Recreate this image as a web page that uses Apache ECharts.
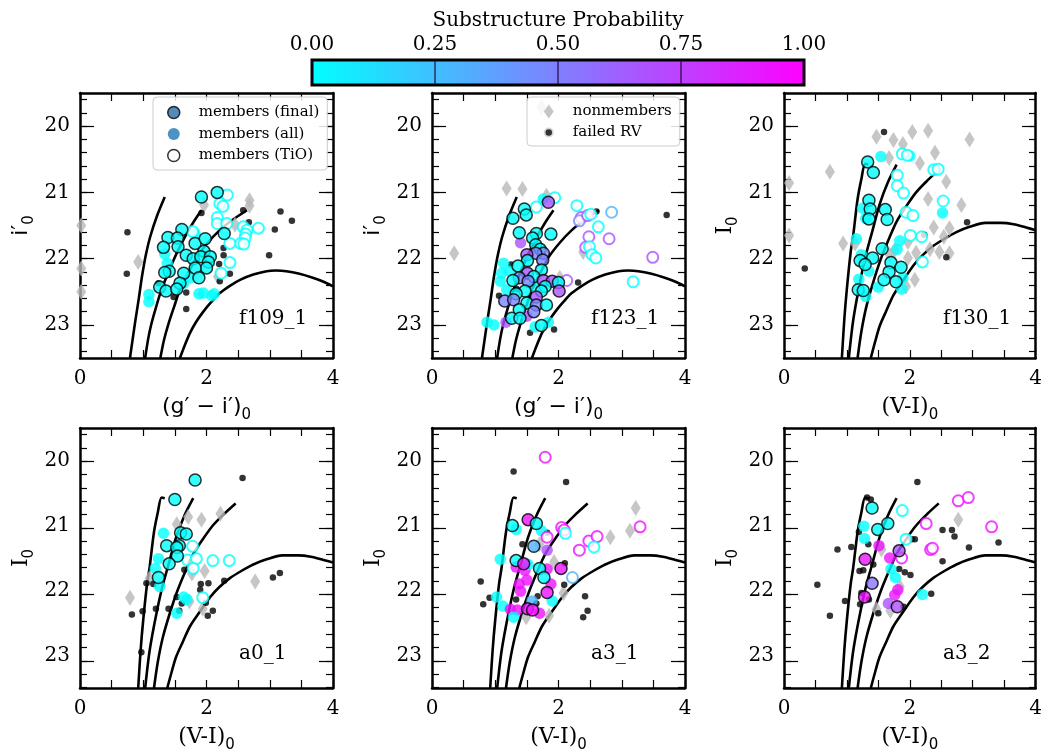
<!DOCTYPE html>
<html><head><meta charset="utf-8">
<script src="https://cdn.jsdelivr.net/npm/echarts@6/dist/echarts.min.js"></script>
<style>html,body{margin:0;padding:0;background:#fff}#c{width:1045px;height:754px}</style>
</head><body><div id="c"></div>
<script>
// ---------- tick values ----------
const X_LABELS = [0,2,4];
const Y_LABELS = [20,21,22,23];
const CB_TICKS = [0,0.25,0.5,0.75,1];

// ---------- isochrones ----------
const iso_gi_1 = [[0.79,23.5],[0.87,22.97],[0.93,22.6],[0.98,22.27],[1.04,21.95],[1.11,21.67],[1.22,21.35],[1.34,21.07]];
const iso_gi_2 = [[1.03,23.5],[1.08,23.2],[1.13,22.98],[1.2,22.74],[1.27,22.52],[1.37,22.27],[1.48,22.02],[1.58,21.82],[1.69,21.62],[1.8,21.44],[1.92,21.27]];
const iso_gi_3 = [[1.27,23.5],[1.33,23.22],[1.4,22.98],[1.49,22.72],[1.58,22.47],[1.71,22.22],[1.85,21.97],[2.02,21.76],[2.21,21.57],[2.42,21.41],[2.64,21.27]];
const iso_gi_4 = [[1.58,23.5],[1.66,23.3],[1.74,23.12],[1.84,22.95],[1.95,22.8],[2.08,22.65],[2.21,22.52],[2.37,22.41],[2.53,22.32],[2.74,22.24],[2.95,22.19],[3.1,22.18],[3.26,22.19],[3.47,22.23],[3.68,22.29],[3.85,22.35],[4.0,22.42]];
const iso_vi_1 = [[0.92,23.5],[0.96,22.9],[1.0,22.45],[1.06,21.9],[1.1,21.65],[1.17,21.1],[1.23,20.8],[1.29,20.57],[1.34,20.58]];
const iso_vi_2 = [[1.03,23.5],[1.09,23.0],[1.14,22.7],[1.22,22.3],[1.3,21.95],[1.4,21.6],[1.52,21.18],[1.65,20.85],[1.79,20.58]];
const iso_vi_3 = [[1.17,23.5],[1.23,23.1],[1.31,22.72],[1.42,22.35],[1.53,22.03],[1.66,21.72],[1.79,21.44],[1.95,21.2],[2.1,21.0],[2.28,20.82],[2.46,20.66]];
const iso_vi_4 = [[1.38,23.5],[1.45,23.25],[1.52,23.02],[1.63,22.78],[1.74,22.55],[1.9,22.32],[2.06,22.1],[2.2,21.95],[2.37,21.81],[2.55,21.7],[2.74,21.6],[2.95,21.52],[3.2,21.46],[3.45,21.46],[3.65,21.48],[3.85,21.53],[4.0,21.57]];

// ---------- f109_1 ----------
const f109_final = [[1.92,21.07,0],[2.17,21.0,0],[2.28,21.62,0],[1.61,21.56,0],[1.39,21.68,0],[1.54,21.69,0],[1.32,21.83,0],[1.55,21.82,0],[1.82,21.77,0],[1.98,21.70,0],[1.96,21.89,0],[1.68,21.95,0],[1.79,22.0,0],[1.91,21.97,0],[2.06,21.97,0],[2.03,22.05,0],[2.0,22.14,0],[1.82,22.14,0],[1.88,22.29,0],[1.64,22.22,0],[1.41,22.19,0],[1.34,22.21,0],[1.58,22.37,0],[1.26,22.43,0],[1.36,22.49,0],[1.53,22.46,0]];
const f109_all = [[1.34,21.93,0],[1.38,22.07,0],[1.09,22.54,0],[1.09,22.65,0],[1.88,22.53,0],[1.95,22.52,0],[2.08,22.56,0],[2.12,22.53,0],[1.74,22.29,0],[1.64,22.37,0],[1.82,21.62,0]];
const f109_tio = [[2.33,21.04,0],[2.21,21.17,0],[2.26,21.21,0],[2.17,21.38,0],[2.17,21.47,0],[2.32,21.47,0],[2.58,21.52,0],[2.64,21.57,0],[2.82,21.54,0],[2.62,21.63,0],[2.61,21.69,0],[2.54,21.77,0],[2.37,21.77,0],[2.59,21.78,0],[2.37,22.06,0],[2.23,22.22,0],[1.78,21.59,0]];
const f109_non = [[0.02,21.5],[0.02,22.15],[0.02,22.5],[2.68,21.12],[2.68,21.2],[1.96,21.19],[2.45,21.49],[0.92,22.05],[2.18,22.27]];
const f109_rv = [[0.75,21.60],[0.74,22.23],[1.92,21.31],[2.58,21.27],[3.17,21.29],[3.35,21.43],[3.08,21.56],[2.99,21.95],[2.27,21.84],[2.27,21.95],[2.2,22.08],[2.37,22.23],[2.21,22.34],[1.24,22.37],[1.48,22.58],[1.68,22.51],[1.68,22.76],[2.67,21.45]];

// ---------- f123_1 ----------
const f123_final = [[1.84,21.15,0.68],[1.46,21.25,0],[1.49,21.34,0],[1.28,21.39,0],[1.38,21.61,0],[1.65,21.62,0],[1.59,21.69,0],[1.88,21.63,0],[1.64,21.79,0],[1.71,21.86,0],[1.76,21.92,0.48],[1.64,21.92,0.48],[1.5,21.94,0.68],[1.51,22.03,0],[1.75,22.02,0.48],[1.36,22.11,0],[1.51,22.22,0.68],[1.73,22.17,0],[1.61,22.27,0],[1.38,22.29,0.48],[1.28,22.33,0],[1.52,22.34,0.48],[1.76,22.33,0.68],[1.9,22.34,0.68],[1.79,22.42,0],[2.0,22.36,0],[2.01,22.49,0.68],[1.73,22.49,0],[1.47,22.49,0],[1.33,22.53,0],[1.15,22.64,0.48],[1.29,22.62,0.48],[1.65,22.58,0.68],[1.5,22.67,0],[1.65,22.7,0.48],[1.81,22.7,0],[1.38,22.77,0],[1.61,22.8,0.48],[1.26,22.9,0],[1.39,22.9,0],[1.73,23.01,0]];
const f123_all = [[1.13,22.07,0],[1.23,22.19,0],[1.1,22.22,0],[1.08,22.34,0],[0.87,22.96,0],[0.98,23.0,0],[1.17,22.96,0.68],[1.5,22.87,0.68],[1.63,23.03,0],[1.84,22.96,0],[1.76,21.1,0],[1.4,21.76,0.68],[1.18,22.47,0],[1.6,22.42,0]];
const f123_tio = [[1.94,21.08,0],[1.65,21.22,0],[2.29,21.2,0],[2.36,21.38,0.68],[2.33,21.43,0.48],[2.46,21.35,0.68],[2.51,21.33,0],[2.84,21.3,0.3],[2.63,21.52,0],[2.48,21.67,0.68],[2.8,21.7,0.68],[2.43,21.83,0.68],[2.49,21.82,0],[2.53,21.94,0],[2.59,21.99,0],[3.49,21.98,0.68],[3.18,22.35,0],[2.13,22.33,0.68]];
const f123_non = [[1.18,20.94],[1.43,20.95],[0.35,21.92],[1.81,21.05],[2.39,21.9],[2.02,22.29],[1.73,19.71]];
const f123_rv = [[3.71,21.34],[2.6,21.29],[2.31,22.36],[1.25,22.09],[1.06,22.56],[1.55,23.12],[1.93,23.07],[1.34,22.46]];

// ---------- f130_1 ----------
const f130_final = [[1.33,20.54,0],[1.42,20.7,0],[1.35,21.12,0],[1.37,21.25,0],[1.35,21.4,0],[1.61,21.26,0],[1.64,21.41,0],[1.56,21.85,0],[1.41,21.99,0],[1.21,22.03,0],[1.29,22.09,0],[1.7,22.06,0],[1.67,22.2,0],[1.59,22.32,0],[1.78,22.35,0],[1.86,22.13,0],[1.18,22.47,0],[1.26,22.48,0]];
const f130_all = [[1.54,20.46,0],[2.0,20.45,0],[1.25,21.24,0],[1.3,21.39,0],[1.15,21.7,0],[1.23,21.94,0],[1.35,22.19,0],[1.19,22.31,0],[1.3,22.57,0],[1.5,22.43,0],[1.84,21.73,0],[1.8,21.86,0],[1.89,22.29,0],[1.87,22.46,0],[2.52,21.31,0]];
const f130_tio = [[1.88,20.42,0],[1.96,20.44,0],[1.8,20.74,0],[1.8,20.9,0],[1.9,21.01,0],[2.38,20.66,0],[2.45,20.65,0],[2.53,21.13,0],[1.94,21.3,0],[2.05,21.35,0],[2.01,21.65,0],[2.19,21.67,0],[2.2,22.05,0]];
const f130_non = [[1.47,20.16],[1.74,20.21],[1.89,20.27],[2.04,20.09],[2.29,20.07],[2.95,20.2],[1.67,20.48],[2.4,20.4],[2.16,20.56],[2.58,20.84],[2.29,21.1],[0.73,20.69],[0.08,20.86],[0.08,21.65],[2.82,21.19],[2.38,21.53],[2.63,21.54],[2.54,21.67],[0.94,21.77],[1.13,21.77],[1.97,21.75],[1.76,21.87],[1.68,21.94],[2.1,21.91],[1.97,21.99],[2.32,21.86],[2.47,21.9],[2.63,21.92],[2.08,22.32],[1.94,22.42]];
const f130_rv = [[1.59,20.09],[0.33,22.15],[2.91,21.45],[2.23,21.64],[2.58,21.98],[2.44,20.66]];

// ---------- a0_1 ----------
const a01_final = [[1.82,20.3,0],[1.5,20.6,0],[1.59,21.11,0],[1.68,21.13,0],[1.37,21.31,0],[1.57,21.31,0],[1.53,21.34,0],[1.54,21.47,0],[1.41,21.59,0],[1.24,21.8,0]];
const a01_all = [[1.32,21.12,0],[1.24,21.51,0],[1.19,21.66,0],[1.26,21.94,0],[1.64,22.1,0],[1.69,22.14,0],[1.53,22.35,0]];
const a01_tio = [[1.78,21.32,0],[1.7,21.53,0],[1.84,21.51,0],[1.79,21.66,0],[2.1,21.54,0],[2.36,21.54,0],[1.94,22.11,0]];
const a01_non = [[1.71,20.87],[1.92,20.91],[2.22,20.82],[1.53,20.98],[1.97,21.7],[1.77,21.74],[1.1,21.81],[0.79,22.11],[2.77,21.86],[1.73,22.17],[1.94,22.28]];
const a01_rv = [[2.57,20.27],[0.82,22.37],[0.99,22.32],[1.2,22.28],[1.4,22.28],[1.05,21.89],[1.16,21.9],[1.53,22.1],[1.61,22.2],[1.57,22.31],[1.91,21.9],[2.03,21.89],[1.9,21.99],[1.99,22.19],[2.1,22.31],[2.02,22.39],[2.28,21.85],[3.05,21.8],[3.16,21.73],[1.65,21.68],[0.97,22.95]];

// ---------- a3_1 ----------
const a31_final = [[1.52,20.91,0.93],[1.65,20.97,0],[1.27,21.0,0],[1.61,21.32,0.3],[1.33,21.54,0],[1.45,21.59,0.93],[2.04,21.66,0.93],[1.7,21.66,0],[1.77,21.8,0],[1.82,22.03,0.93],[1.51,22.28,0.93],[1.59,22.3,0.93]];
const a31_all = [[1.33,21.06,0],[1.73,21.08,0],[1.08,21.52,0],[1.82,21.38,0.7],[1.33,21.64,0.93],[1.47,21.69,0.93],[1.52,21.6,0],[1.82,21.67,0.93],[1.38,21.9,0.93],[1.5,21.84,0.93],[1.4,22.01,0.93],[1.88,21.9,0.93],[1.02,22.1,0],[1.12,22.24,0],[1.24,22.29,0.93],[1.35,22.3,0.93],[1.29,22.41,0],[1.58,22.16,0.3],[1.7,22.35,0.93],[1.9,22.16,0]];
const a31_tio = [[1.79,19.95,0.93],[2.05,21.03,0.93],[2.09,21.07,0.93],[2.11,21.12,0],[1.82,21.18,0.93],[2.33,21.38,0.93],[2.48,21.24,0.93],[2.61,21.17,0.93],[2.56,21.33,0],[3.29,21.02,0.93],[2.22,21.8,0.3]];
const a31_non = [[3.22,20.73],[3.13,21.08],[2.82,21.18],[1.93,21.56],[2.08,22.04],[1.49,22.41],[1.85,22.39],[1.7,21.29]];
const a31_rv = [[1.29,20.17],[2.12,20.33],[0.77,21.86],[0.91,22.11],[0.81,22.21],[1.33,22.14],[1.43,21.29],[1.82,21.11],[2.1,21.58],[2.09,21.91],[1.67,22.09],[1.65,22.2],[2.42,22.09],[2.46,22.31],[2.39,22.41],[2.02,21.05]];

// ---------- a3_2 ----------
const a32_final = [[1.4,20.73,0],[1.49,21.06,0],[1.65,20.97,0],[1.83,21.39,0.68],[1.29,21.52,0.92],[1.4,21.89,0.55],[1.28,22.1,0.92],[1.8,22.25,0.68]];
const a32_all = [[1.27,21.01,0],[1.28,21.2,0],[1.51,21.31,0.92],[1.68,21.5,0.92],[1.7,21.67,0],[1.77,21.8,0],[1.81,21.99,0.92],[1.76,22.07,0.92],[1.66,22.2,0.68],[2.2,22.06,0]];
const a32_tio = [[1.88,20.77,0],[1.94,21.21,0],[1.87,21.5,0.92],[2.26,20.97,0.92],[2.33,21.37,0.92],[2.36,21.35,0.92],[2.77,20.62,0.92],[2.93,20.57,0.92],[3.3,21.02,0.92]];
const a32_non = [[2.77,20.91],[1.55,21.37],[1.84,21.94],[1.47,22.29],[1.69,22.31]];
const a32_rv = [[2.12,20.33],[1.32,20.57],[1.38,20.6],[0.53,21.91],[0.73,22.39],[0.97,22.16],[1.21,22.21],[0.85,21.37],[1.07,21.33],[1.19,21.1],[1.34,21.29],[1.42,21.6],[1.2,21.7],[1.26,21.69],[1.23,22.04],[1.35,22.14],[1.5,22.35],[2.08,21.21],[2.03,21.21],[1.83,21.67],[1.92,21.72],[2.01,21.76],[1.9,22.25],[2.34,22.05],[2.52,21.07],[2.67,21.07],[2.71,21.17],[2.94,21.34],[3.41,21.26],[2.52,21.55]];

const panelNames = ['f109_1','f123_1','f130_1','a0_1','a3_1','a3_2'];
const panelBands = ['gi','gi','vi','vi','vi','vi'];
const panelFinal = [f109_final,f123_final,f130_final,a01_final,a31_final,a32_final];
const panelAll = [f109_all,f123_all,f130_all,a01_all,a31_all,a32_all];
const panelTio = [f109_tio,f123_tio,f130_tio,a01_tio,a31_tio,a32_tio];
const panelNon = [f109_non,f123_non,f130_non,a01_non,a31_non,a32_non];
const panelRv = [f109_rv,f123_rv,f130_rv,a01_rv,a31_rv,a32_rv];
const isoGi = [iso_gi_1,iso_gi_2,iso_gi_3,iso_gi_4];
const isoVi = [iso_vi_1,iso_vi_2,iso_vi_3,iso_vi_4];

// ---------- layout ----------
const SERIF = 'DejaVu Serif';
const SANS = 'DejaVu Sans';
const COL_LEFT = [80, 432, 784];
const COL_W = [253, 253, 252];
const ROW_TOP = [93, 428];
const ROW_H = [265, 266];
const Y_MIN = 19.5, Y_MAX = 23.5;
const FRAME = {color:'#000', width:2.5};
const TICK = {color:'#000', width:1.2};

const grids = [], xAxes = [], yAxes = [], series = [], titles = [];
const memberIdx = [];

function nameStyle(mainFont){
  return {
    color:'#000',
    rich:{
      m:{fontFamily:mainFont, fontSize:22, color:'#000', verticalAlign:'top', padding:[0,0,5,0]},
      s:{fontFamily:SANS, fontSize:15, color:'#000', verticalAlign:'bottom'}
    }
  };
}

// overlay grid covering the sub-range [lo, hi] of the panel's y range
function subRect(col, row, lo, hi){
  const h = ROW_H[row], pxPer = h / (Y_MAX - Y_MIN);
  return {left:COL_LEFT[col], width:COL_W[col], top:ROW_TOP[row] + (lo - Y_MIN) * pxPer, height:(hi - lo) * pxPer};
}

function tickAxis(gridIndex, pos, lo, hi, interval, len){
  return {gridIndex:gridIndex, type:'value', position:pos, min:lo, max:hi, interval:interval, inverse:true,
    axisLine:{show:false},
    axisTick:{show:true, inside:true, length:len, lineStyle:TICK},
    axisLabel:{show:false}, splitLine:{show:false}};
}

for (let i = 0; i < 6; i++) {
  const row = i < 3 ? 0 : 1, col = i % 3;
  const gMain = 3*i, gMinor = 3*i+1, gMajor = 3*i+2;
  grids.push({show:false, left:COL_LEFT[col], top:ROW_TOP[row], width:COL_W[col], height:ROW_H[row]});
  grids.push(Object.assign({show:false}, subRect(col, row, 19.6, 23.4)));
  grids.push(Object.assign({show:false}, subRect(col, row, 20, 23)));
  const gi = panelBands[i] === 'gi';
  const xName = gi ? '{m|(g\u2032 \u2212 i\u2032)}{s|0}' : '{m|(V-I)}{s|0}';
  const yName = gi ? '{m|i\u2032}{s|0}' : '{m|I}{s|0}';
  const mainFont = gi ? SANS : SERIF;

  // x axes (4 per panel)
  xAxes.push({
    gridIndex:gMain, type:'value', position:'bottom', min:0, max:4, interval:0.5,
    axisLine:{show:true, onZero:false, lineStyle:FRAME},
    axisTick:{show:true, inside:true, length:8, lineStyle:TICK},
    axisLabel:{show:true, customValues:X_LABELS, color:'#000', fontFamily:SERIF, fontSize:20, margin:11},
    splitLine:{show:false},
    name:xName, nameLocation:'middle', nameGap:38, nameTextStyle:nameStyle(mainFont)
  });
  xAxes.push({
    gridIndex:gMain, type:'value', position:'top', min:0, max:4, interval:0.5,
    axisLine:{show:true, onZero:false, lineStyle:FRAME},
    axisTick:{show:true, inside:true, length:8, lineStyle:TICK},
    axisLabel:{show:false}, splitLine:{show:false}
  });
  xAxes.push({gridIndex:gMinor, type:'value', min:0, max:4, show:false});
  xAxes.push({gridIndex:gMajor, type:'value', min:0, max:4, show:false});

  // y axes (6 per panel)
  yAxes.push({
    gridIndex:gMain, type:'value', position:'left', min:Y_MIN, max:Y_MAX, inverse:true,
    axisLine:{show:true, onZero:false, lineStyle:FRAME},
    axisTick:{show:false},
    axisLabel:{show:true, customValues:Y_LABELS, color:'#000', fontFamily:SERIF, fontSize:20, margin:10},
    splitLine:{show:false},
    name:yName, nameLocation:'middle', nameGap:43, nameRotate:90, nameTextStyle:nameStyle(mainFont)
  });
  yAxes.push({
    gridIndex:gMain, type:'value', position:'right', min:Y_MIN, max:Y_MAX, inverse:true,
    axisLine:{show:true, onZero:false, lineStyle:FRAME},
    axisTick:{show:false}, axisLabel:{show:false}, splitLine:{show:false}
  });
  yAxes.push(tickAxis(gMinor, 'left', 19.6, 23.4, 0.2, 7));
  yAxes.push(tickAxis(gMinor, 'right', 19.6, 23.4, 0.2, 7));
  yAxes.push(tickAxis(gMajor, 'left', 20, 23, 1, 14));
  yAxes.push(tickAxis(gMajor, 'right', 20, 23, 1, 14));

  const xi = 4*i, yi = 6*i;
  const isos = gi ? isoGi : isoVi;
  isos.forEach(function(iso){
    series.push({type:'line', xAxisIndex:xi, yAxisIndex:yi, data:iso, symbol:'none', showSymbol:false,
      smooth:0.3, lineStyle:{color:'#000', width:2.6}, z:2, silent:true});
  });
  series.push({type:'scatter', name:'non '+i, xAxisIndex:xi, yAxisIndex:yi, data:panelNon[i],
    symbol:'diamond', symbolSize:[10,16], itemStyle:{color:'#b8b8b8'}, z:3});
  series.push({type:'scatter', name:'rv '+i, xAxisIndex:xi, yAxisIndex:yi, data:panelRv[i],
    symbol:'circle', symbolSize:6.5, itemStyle:{color:'#000'}, z:4});
  memberIdx.push(series.length);
  series.push({type:'scatter', name:'all '+i, xAxisIndex:xi, yAxisIndex:yi, data:panelAll[i],
    symbol:'circle', symbolSize:11.5, z:5});
  memberIdx.push(series.length);
  series.push({type:'scatter', name:'tio '+i, xAxisIndex:xi, yAxisIndex:yi, data:panelTio[i],
    symbol:'emptyCircle', symbolSize:11, itemStyle:{borderWidth:1.5}, z:6});
  memberIdx.push(series.length);
  series.push({type:'scatter', name:'final '+i, xAxisIndex:xi, yAxisIndex:yi, data:panelFinal[i],
    symbol:'circle', symbolSize:12, itemStyle:{borderColor:'#000', borderWidth:1.5}, z:7});

  titles.push({text:panelNames[i], left:COL_LEFT[col] + 159, top:ROW_TOP[row] + 216, padding:0,
    textStyle:{fontFamily:SERIF, fontSize:20, fontWeight:'normal', color:'#000'}});
}

// colorbar
grids.push({left:312, top:60, width:492, height:25, show:true,
  backgroundColor:new echarts.graphic.LinearGradient(0,0,1,0,[{offset:0,color:'#00ffff'},{offset:1,color:'#ff00ff'}]),
  borderColor:'#000', borderWidth:3});
xAxes.push({gridIndex:18, type:'value', position:'top', min:0, max:1, interval:0.25,
  axisLine:{show:false}, axisTick:{show:false},
  axisLabel:{customValues:CB_TICKS, color:'#000', fontFamily:SERIF, fontSize:20, margin:5, formatter:function(v){return v.toFixed(2);}},
  splitLine:{show:true, lineStyle:{color:'rgba(30,0,50,0.75)', width:1.5}},
  name:'Substructure Probability', nameLocation:'middle', nameGap:29,
  nameTextStyle:{fontFamily:SERIF, fontSize:20, color:'#000'}});
yAxes.push({gridIndex:18, type:'value', min:0, max:1, show:false});

// legend-only series
series.push({type:'scatter', name:'members (final)', data:[], symbol:'circle', itemStyle:{color:'#2b6ea6', borderColor:'#000', borderWidth:1.5}});
series.push({type:'scatter', name:'members (all)', data:[], symbol:'circle', itemStyle:{color:'#1f77b4'}});
series.push({type:'scatter', name:'members (TiO)', data:[], symbol:'circle', itemStyle:{color:'#fff', borderColor:'#000', borderWidth:1.5}});
series.push({type:'scatter', name:'nonmembers', data:[], symbol:'diamond', itemStyle:{color:'#b8b8b8'}});
series.push({type:'scatter', name:'failed RV', data:[], symbol:'circle', itemStyle:{color:'#000'}});

const legendBase = {
  orient:'vertical', selectedMode:false,
  backgroundColor:'rgba(255,255,255,0.85)', borderColor:'#cccccc', borderWidth:1, borderRadius:4,
  textStyle:{fontFamily:SERIF, fontSize:15, color:'#000', padding:[0,0,0,14]}
};

const option = {
  animation:false,
  backgroundColor:'#fff',
  textStyle:{fontFamily:SERIF},
  title:titles,
  grid:grids, xAxis:xAxes, yAxis:yAxes,
  visualMap:{type:'continuous', show:false, min:0, max:1, dimension:2, seriesIndex:memberIdx,
    inRange:{color:['#00ffff','#ff00ff']}},
  legend:[
    Object.assign({}, legendBase, {left:153, top:97, itemWidth:12, itemHeight:12, itemGap:6.5, padding:[8,8,7,14],
      data:[{name:'members (final)', itemStyle:{borderWidth:1.5}}, 'members (all)', {name:'members (TiO)', itemStyle:{borderWidth:1.5}}]}),
    Object.assign({}, legendBase, {left:527, top:97, itemWidth:10, itemHeight:14, itemGap:6, padding:[7,8,6,15],
      data:['nonmembers', {name:'failed RV', itemStyle:{borderColor:'#fff', borderWidth:3.5}}]})
  ],
  series:series
};

const chart = echarts.init(document.getElementById('c'), null, {renderer:'canvas'});
chart.setOption(option);
</script></body></html>
